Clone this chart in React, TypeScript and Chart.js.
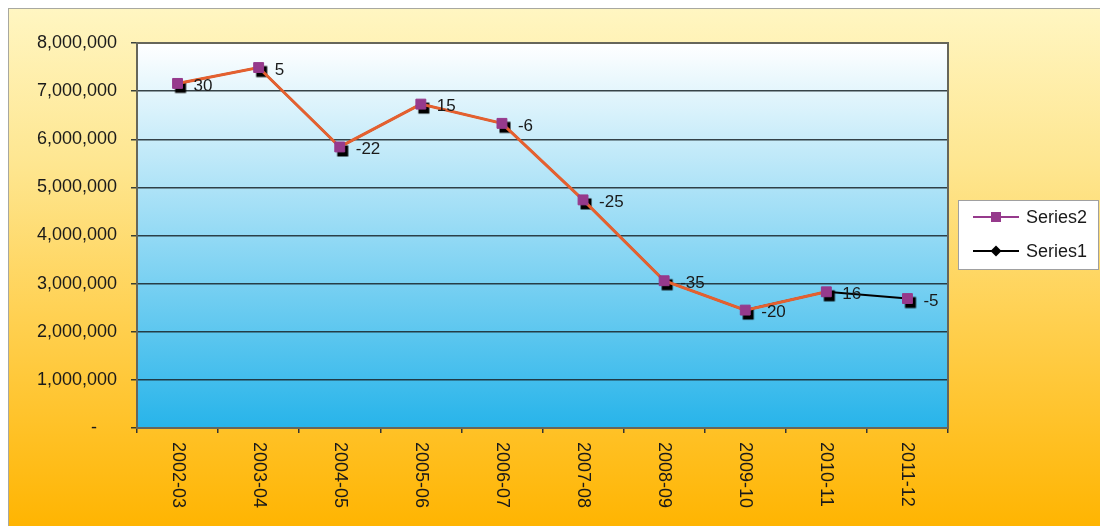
import React, { useEffect, useRef } from "react";
import { Chart, registerables } from "chart.js";

Chart.register(...registerables);

// Fiscal years on the category axis
const categories = [
  "2002-03", "2003-04", "2004-05", "2005-06", "2006-07",
  "2007-08", "2008-09", "2009-10", "2010-11", "2011-12",
];

// Yearly totals
const series2Values = [
  7160000, 7490000, 5840000, 6730000, 6330000,
  4740000, 3060000, 2450000, 2830000, 2690000,
];
const series1Values = [
  7160000, 7490000, 5840000, 6730000, 6330000,
  4740000, 3060000, 2450000, 2830000, 2690000,
];

// Year-on-year change (%) printed beside each point
const changeLabels = ["30", "5", "-22", "15", "-6", "-25", "-35", "-20", "16", "-5"];

// Value axis
const yMin = 0;
const yMax = 8000000;
const yStep = 1000000;

const FONT = "'Liberation Sans', Arial, Helvetica, sans-serif";
const TEXT = "#1a1a1a";
const ORANGE_LINE = "#E5602F";
const PURPLE = "#963A8C";

function makeShadowSquare(): HTMLCanvasElement {
  const c = document.createElement("canvas");
  c.width = 30;
  c.height = 30;
  const g = c.getContext("2d")!;
  g.fillStyle = "#000";
  // black square sitting slightly lower-right of the point
  g.fillRect(15 - 5.5 + 3, 15 - 5.5 + 4, 11, 11);
  return c;
}

const backgroundPlugin = {
  id: "backgrounds",
  beforeDraw(chart: any) {
    const { ctx, width, height, chartArea } = chart;
    ctx.save();
    const outer = ctx.createLinearGradient(0, 0, 0, height);
    outer.addColorStop(0, "#FFF6C2");
    outer.addColorStop(0.3, "#FEE690");
    outer.addColorStop(0.6, "#FFD050");
    outer.addColorStop(1, "#FFB400");
    ctx.fillStyle = outer;
    ctx.fillRect(0, 0, width, height);
    ctx.strokeStyle = "#A8A8A0";
    ctx.lineWidth = 1;
    ctx.strokeRect(0.5, 0.5, width - 1, height - 1);

    const inner = ctx.createLinearGradient(0, chartArea.top, 0, chartArea.bottom);
    inner.addColorStop(0, "#FFFFFF");
    inner.addColorStop(1, "#27B4EA");
    ctx.fillStyle = inner;
    ctx.fillRect(chartArea.left, chartArea.top, chartArea.right - chartArea.left, chartArea.bottom - chartArea.top);
    ctx.restore();
  },
  beforeDatasetsDraw(chart: any) {
    const { ctx, chartArea } = chart;
    ctx.save();
    ctx.strokeStyle = "#66665A";
    ctx.lineWidth = 2;
    ctx.strokeRect(chartArea.left, chartArea.top, chartArea.right - chartArea.left, chartArea.bottom - chartArea.top);
    ctx.restore();
  },
  afterDraw(chart: any) {
    const { ctx, chartArea } = chart;
    const xScale = chart.scales.x;
    ctx.save();
    // vertical category labels, reading top to bottom
    ctx.fillStyle = TEXT;
    ctx.font = `18px ${FONT}`;
    ctx.textAlign = "left";
    ctx.textBaseline = "middle";
    categories.forEach((label, i) => {
      const x = xScale.getPixelForValue(i);
      ctx.save();
      ctx.translate(x, chartArea.bottom + 14);
      ctx.rotate(Math.PI / 2);
      ctx.fillText(label, 0, 0);
      ctx.restore();
    });

    // value change labels beside the Series2 points
    const meta = chart.getDatasetMeta(0);
    ctx.font = `17px ${FONT}`;
    meta.data.forEach((pt: any, i: number) => {
      ctx.fillText(changeLabels[i], pt.x + 16, pt.y + 2.5);
    });

    // legend box
    const lx = 950.5, ly = 192.5, lw = 140, lh = 69;
    ctx.fillStyle = "#FFFFFF";
    ctx.fillRect(lx, ly, lw, lh);
    ctx.strokeStyle = "#A0A0A0";
    ctx.lineWidth = 1;
    ctx.strokeRect(lx, ly, lw, lh);

    const items = [
      { label: "Series2", color: PURPLE, y: 209, marker: "square" },
      { label: "Series1", color: "#000000", y: 243, marker: "diamond" },
    ];
    items.forEach((it) => {
      ctx.strokeStyle = it.color;
      ctx.lineWidth = 2;
      ctx.beginPath();
      ctx.moveTo(965, it.y);
      ctx.lineTo(1011, it.y);
      ctx.stroke();
      ctx.fillStyle = it.color;
      if (it.marker === "square") {
        ctx.fillRect(988 - 5, it.y - 5, 10, 10);
      } else {
        ctx.beginPath();
        ctx.moveTo(988, it.y - 5.5);
        ctx.lineTo(993.5, it.y);
        ctx.lineTo(988, it.y + 5.5);
        ctx.lineTo(982.5, it.y);
        ctx.closePath();
        ctx.fill();
      }
      ctx.fillStyle = TEXT;
      ctx.font = `18px ${FONT}`;
      ctx.fillText(it.label, 1018, it.y + 1);
    });
    ctx.restore();
  },
};

export default function App() {
  const canvasRef = useRef<HTMLCanvasElement | null>(null);

  useEffect(() => {
    if (!canvasRef.current) return;
    const shadow = makeShadowSquare();
    const chart = new Chart(canvasRef.current, {
      type: "line",
      data: {
        labels: categories,
        datasets: [
          {
            label: "Series2",
            data: series2Values,
            borderColor: ORANGE_LINE,
            borderWidth: 3,
            tension: 0,
            pointStyle: "rect",
            pointRadius: 7,
            pointBorderWidth: 1,
            pointBackgroundColor: PURPLE,
            pointBorderColor: PURPLE,
            segment: {
              borderColor: (c: any) => (c.p1DataIndex === categories.length - 1 ? "rgba(0,0,0,0)" : ORANGE_LINE),
            },
          },
          {
            label: "Series1",
            data: series1Values,
            borderColor: "#000000",
            borderWidth: 2,
            tension: 0,
            pointStyle: shadow as any,
            pointRadius: 7,
          },
        ],
      },
      options: {
        responsive: false,
        animation: false,
        devicePixelRatio: 1,
        layout: { padding: { left: 0, top: 35, right: 156, bottom: 0 } },
        plugins: {
          legend: { display: false },
          tooltip: { enabled: false },
        },
        scales: {
          x: {
            offset: true,
            grid: {
              offset: true,
              drawOnChartArea: false,
              drawTicks: true,
              tickLength: 5,
              color: "#333333",
              lineWidth: 1.5,
            },
            border: { display: true, color: "#333333", width: 2 },
            ticks: { display: false },
            afterFit: (s: any) => {
              s.height = 102;
            },
          },
          y: {
            min: yMin,
            max: yMax,
            grid: {
              color: "rgba(25,35,40,0.85)",
              lineWidth: 1.5,
              tickLength: 6,
              drawTicks: true,
            },
            border: { display: true, color: "#333333", width: 2 },
            ticks: {
              stepSize: yStep,
              padding: 14,
              color: TEXT,
              font: { family: FONT, size: 18 },
              callback: (v: any) => (Number(v) === 0 ? "-    " : Number(v).toLocaleString("en-US")),
            },
            afterFit: (s: any) => {
              s.width = 129;
            },
          },
        },
      },
      plugins: [backgroundPlugin],
    });
    return () => chart.destroy();
  }, []);

  return (
    <div style={{ position: "fixed", left: 8, top: 8, width: 1096, height: 522 }}>
      <canvas ref={canvasRef} width={1096} height={522} />
    </div>
  );
}
